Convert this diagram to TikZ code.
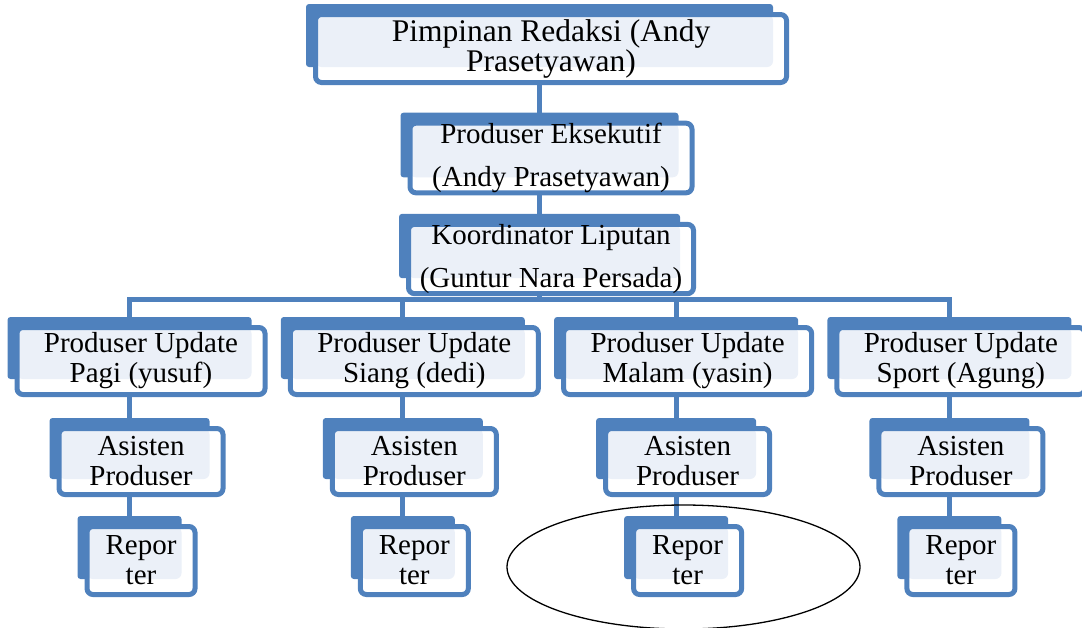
\documentclass[tikz,border=0pt]{standalone}
\usepackage{fontspec}
\setmainfont{Liberation Serif}
\usetikzlibrary{calc}
\pgfdeclarelayer{garis}
\pgfdeclarelayer{belakang}
\pgfsetlayers{garis,belakang,main}
\definecolor{biru}{HTML}{4F81BD}
\definecolor{biruMuda}{HTML}{EBF0F8}
% kotak biru di belakang tiap node
\newcommand\belakang[1]{\begin{pgfonlayer}{belakang}
  \fill[biru,rounded corners=3pt]($(#1.north west)+(-7pt,8pt)$)rectangle($(#1.south east)+(-16pt,18pt)$);
  \end{pgfonlayer}}
\newcommand\sambung[2]{\begin{pgfonlayer}{garis}
  \draw[garis]([xshift=-11.5pt]#1.south)--([xshift=-11.5pt]#2.north);
  \end{pgfonlayer}}

\begin{document}
\begin{tikzpicture}[x=1pt,y=-1pt,
    kotak/.style={draw=biru,line width=5pt,rounded corners=6pt,fill=white,inner sep=0pt,align=center,
      font=\fontsize{29}{30}\selectfont,
      path picture={\fill[biruMuda](path picture bounding box.north west)rectangle($(path picture bounding box.south east)+(-13.5pt,15.5pt)$);}},
    garis/.style={biru,line width=5pt}]
    \useasboundingbox(0,0)rectangle(1082,627);
    \node[kotak,minimum width=471pt,minimum height=68pt,font=\fontsize{31.5}{30}\selectfont](pimpinan)at(551,48.5){Pimpinan Redaksi (Andy\\Prasetyawan)};
    \node[kotak,minimum width=282pt,minimum height=65pt,font=\fontsize{29}{43}\selectfont](eksekutif)at(551,158){Produser Eksekutif\\(Andy Prasetyawan)};
    \node[kotak,minimum width=285pt,minimum height=67pt,font=\fontsize{29}{43}\selectfont](koordinator)at(551,259){Koordinator Liputan\\(Guntur Nara Persada)};
    \belakang{pimpinan}\belakang{eksekutif}\belakang{koordinator}
    \sambung{pimpinan}{eksekutif}\sambung{eksekutif}{koordinator}
    \coordinate(bus)at(0,299.5);
    \foreach \nama[count=\i from 0] in {Pagi (yusuf),Siang (dedi),Malam (yasin),Sport (Agung)}{
      \pgfmathsetmacro\xc{141+273.3*\i}
      \node[kotak,minimum width=248pt,minimum height=67pt](produser\i)at(\xc,361){Produser Update\\\nama};
      \node[kotak,minimum width=164pt,minimum height=66pt](asisten\i)at(\xc,461.5){Asisten\\Produser};
      \node[kotak,minimum width=108pt,minimum height=68pt](reporter\i)at(\xc,560.5){Repor\\ter};
      \belakang{produser\i}\belakang{asisten\i}\belakang{reporter\i}
      \coordinate(atas\i)at([xshift=-11.5pt]produser\i.north);
      \begin{pgfonlayer}{garis}
        \draw[garis]([xshift=-11.5pt]koordinator.south)|-(atas\i|-bus)--(atas\i);
      \end{pgfonlayer}
      \sambung{produser\i}{asisten\i}\sambung{asisten\i}{reporter\i}
    }
    \draw[line width=1.3pt](683.5,567)ellipse(176.5 and 62);
\end{tikzpicture}
\end{document}
